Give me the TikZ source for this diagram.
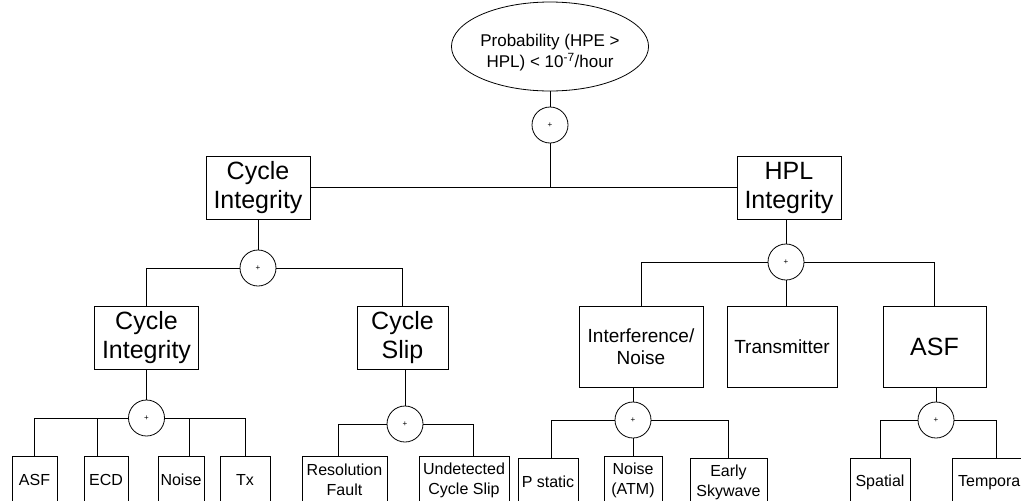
\documentclass[tikz,border=0pt]{standalone}
\usepackage{fontspec}
\setmainfont{Liberation Sans}
\usetikzlibrary{shapes.geometric}

\begin{document}
\begin{tikzpicture}[x=1pt,y=-1pt,line width=0.8pt,
    box/.style={draw,rectangle,inner sep=0pt,align=center},
    orgate/.style={draw,circle,minimum size=36pt,inner sep=0pt,font=\fontsize{8}{8}\selectfont},
    big/.style={box,font=\fontsize{25}{29}\selectfont,minimum height=63pt},
    mid/.style={box,font=\fontsize{19}{22}\selectfont,minimum height=81pt},
    leaf/.style={box,font=\fontsize{16}{20}\selectfont,minimum height=48pt}]

    \useasboundingbox (0,0) rectangle (1021,501);

    \node[draw,ellipse,minimum width=148pt,minimum height=89pt,inner sep=0pt,align=center,
          font=\fontsize{17}{21}\selectfont] (top) at (550,46.5) {\rule{0pt}{25pt}Probability (HPE >\\HPL) < 10\textsuperscript{-7}/hour};
    \node[orgate] (g0) at (550,125) {+};

    \node[big,minimum width=104pt] (ci) at (258,187.5) {Cycle\\Integrity};
    \node[big,minimum width=104pt] (hi) at (789,187.5) {HPL\\Integrity};

    \node[orgate] (g1) at (258,268) {+};
    \node[orgate] (g2) at (786,262) {+};

    \node[big,minimum width=104pt] (ci2) at (146.5,337.5) {Cycle\\Integrity};
    \node[big,minimum width=91pt] (cs) at (402.5,337.5) {Cycle\\Slip};
    \node[mid,minimum width=124pt] (inf) at (641,346.5) {Interference/\\Noise};
    \node[mid,minimum width=110pt] (tr) at (782,346.5) {Transmitter};
    \node[mid,minimum width=103pt,font=\fontsize{25}{29}\selectfont] (asf) at (934.5,346.5) {ASF};

    \node[orgate] (g3) at (146.5,418) {+};
    \node[orgate] (g4) at (405,424) {+};
    \node[orgate] (g5) at (633,420) {+};
    \node[orgate] (g6) at (936,420) {+};

    \node[leaf,minimum width=45pt] (asfl) at (34.5,480) {ASF};
    \node[leaf,minimum width=44pt] (ecd) at (106,480) {ECD};
    \node[leaf,minimum width=46pt] (noise) at (181,480) {Noise};
    \node[leaf,minimum width=50pt] (tx) at (245,480) {Tx};
    \node[leaf,minimum width=85pt] (res) at (344.5,480) {Resolution\\Fault};
    \node[leaf,minimum width=90pt] (und) at (464,480) {Undetected\\Cycle Slip};
    \node[leaf,minimum width=60pt] (ps) at (548,482) {P static};
    \node[leaf,minimum width=58pt] (nat) at (633,480) {Noise\\(ATM)};
    \node[leaf,minimum width=77pt] (esw) at (728.5,482) {Early\\Skywave};
    \node[leaf,minimum width=60pt] (spa) at (880,482) {Spatial};
    \node[leaf,minimum width=78pt] (tem) at (991,482) {Temporal};

    \draw (top) -- (g0);
    \draw (g0) -- (g0 |- ci.east);
    \draw (ci.east) -- (hi.west);

    \draw (ci) -- (g1);
    \draw (g1) -| (ci2);
    \draw (g1) -| (cs);

    \draw (g2 |- hi.south) -- (g2);
    \draw (g2) -| (inf);
    \draw (g2) -- (g2 |- tr.north);
    \draw (g2) -| (asf);

    \draw (ci2) -- (g3);
    \draw (g3) -| (asfl);
    \draw (g3) -| ([xshift=-9pt]ecd.north);
    \draw (g3) -| ([xshift=8pt]noise.north);
    \draw (g3) -| (tx);

    \draw (g4 |- cs.south) -- (g4);
    \draw (g4) -| ([xshift=-6.5pt]res.north);
    \draw (g4) -| ([xshift=9pt]und.north);

    \draw (g5 |- inf.south) -- (g5);
    \draw (g5) -| ([xshift=3pt]ps.north);
    \draw (g5) -- (nat);
    \draw (g5) -| (esw);

    \draw (g6 |- asf.south) -- (g6);
    \draw (g6) -| (spa);
    \draw (g6) -| ([xshift=5pt]tem.north);
\end{tikzpicture}
\end{document}
